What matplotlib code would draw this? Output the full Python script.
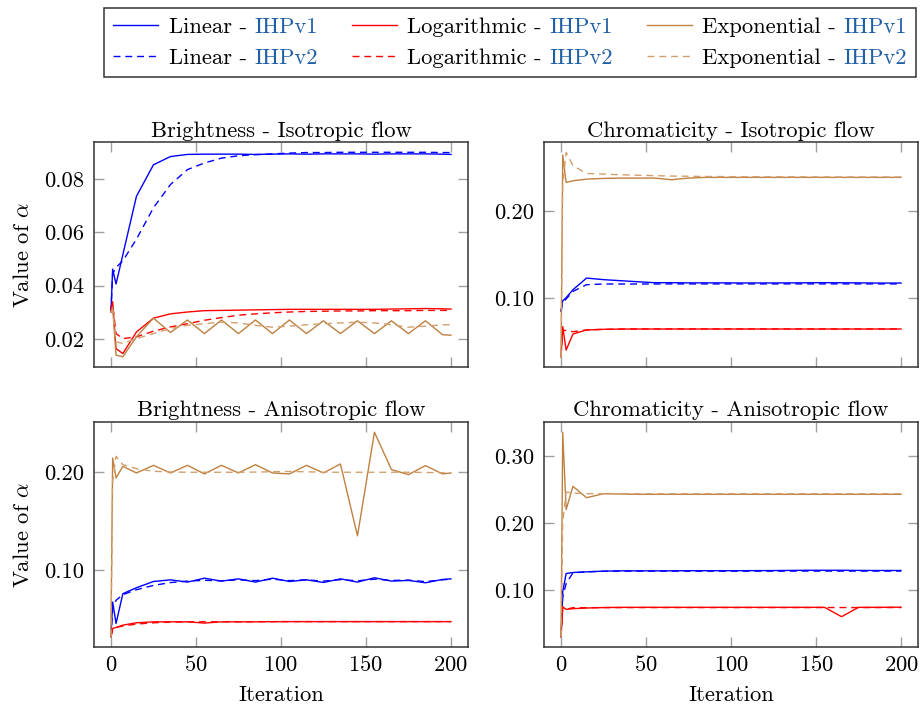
import numpy as np
import matplotlib.pyplot as plt
from matplotlib.lines import Line2D
from matplotlib.text import Annotation
from matplotlib.ticker import MultipleLocator, FormatStrFormatter

plt.rcParams.update({'font.family': 'cmr10', 'mathtext.fontset': 'cm',
                     'axes.formatter.use_mathtext': True, 'font.size': 16.3,
                     'axes.titlesize': 16.3})

# iterations at which alpha was recorded
it = [0, 1, 3, 7, 15, 25, 35, 45, 55, 65, 75, 85, 95, 105, 115, 125,
      135, 145, 155, 165, 175, 185, 195, 200]

# brightness - isotropic flow
bri_iso_lin1 = [0.0301, 0.0462, 0.0406, 0.0516, 0.0735, 0.0853, 0.0884, 0.0892, 0.0893, 0.0893, 0.0893, 0.0892,
                0.0893, 0.0894, 0.0893, 0.0894, 0.0894, 0.0894, 0.0893, 0.0894, 0.0894, 0.0894, 0.0893, 0.0892]
bri_iso_lin2 = [0.0301, 0.0444, 0.0468, 0.0493, 0.0574, 0.0692, 0.0779, 0.0835, 0.0860, 0.0878, 0.0887, 0.0891,
                0.0894, 0.0897, 0.0899, 0.0899, 0.0900, 0.0900, 0.0900, 0.0900, 0.0900, 0.0900, 0.0899, 0.0899]
bri_iso_log1 = [0.0310, 0.0340, 0.0164, 0.0145, 0.0226, 0.0278, 0.0294, 0.0301, 0.0306, 0.0307, 0.0308, 0.0309,
                0.0310, 0.0311, 0.0311, 0.0311, 0.0311, 0.0311, 0.0311, 0.0312, 0.0313, 0.0314, 0.0313, 0.0312]
bri_iso_log2 = [0.0300, 0.0330, 0.0220, 0.0201, 0.0208, 0.0229, 0.0245, 0.0257, 0.0270, 0.0280, 0.0289, 0.0294,
                0.0298, 0.0301, 0.0303, 0.0304, 0.0305, 0.0305, 0.0306, 0.0306, 0.0306, 0.0307, 0.0307, 0.0307]
bri_iso_exp1 = [0.0300, 0.0320, 0.0139, 0.0133, 0.0208, 0.0278, 0.0224, 0.0271, 0.0220, 0.0271, 0.0220, 0.0271,
                0.0220, 0.0271, 0.0220, 0.0268, 0.0220, 0.0268, 0.0220, 0.0268, 0.0220, 0.0268, 0.0216, 0.0214]
bri_iso_exp2 = [0.0300, 0.0310, 0.0189, 0.0183, 0.0201, 0.0220, 0.0239, 0.0251, 0.0257, 0.0263, 0.0260, 0.0251,
                0.0244, 0.0248, 0.0253, 0.0257, 0.0260, 0.0263, 0.0260, 0.0253, 0.0244, 0.0248, 0.0253, 0.0253]

# chromaticity - isotropic flow
chr_iso_lin1 = [0.0850, 0.0970, 0.1005, 0.1096, 0.1230, 0.1212, 0.1200, 0.1188, 0.1177, 0.1177, 0.1175, 0.1175,
                0.1175, 0.1174, 0.1174, 0.1174, 0.1175, 0.1176, 0.1177, 0.1176, 0.1175, 0.1173, 0.1173, 0.1173]
chr_iso_lin2 = [0.0850, 0.0950, 0.0990, 0.1077, 0.1154, 0.1162, 0.1162, 0.1162, 0.1162, 0.1163, 0.1163, 0.1163,
                0.1163, 0.1163, 0.1163, 0.1163, 0.1163, 0.1163, 0.1163, 0.1163, 0.1163, 0.1163, 0.1163, 0.1163]
chr_iso_log1 = [0.0327, 0.0673, 0.0404, 0.0588, 0.0635, 0.0642, 0.0645, 0.0646, 0.0646, 0.0646, 0.0646, 0.0646,
                0.0646, 0.0646, 0.0646, 0.0646, 0.0646, 0.0646, 0.0646, 0.0646, 0.0646, 0.0646, 0.0646, 0.0646]
chr_iso_log2 = [0.0327, 0.0635, 0.0627, 0.0615, 0.0635, 0.0642, 0.0645, 0.0646, 0.0646, 0.0646, 0.0646, 0.0646,
                0.0646, 0.0646, 0.0646, 0.0646, 0.0646, 0.0646, 0.0646, 0.0646, 0.0646, 0.0646, 0.0646, 0.0646]
chr_iso_exp1 = [0.0327, 0.2642, 0.2327, 0.2346, 0.2365, 0.2373, 0.2377, 0.2377, 0.2377, 0.2358, 0.2377, 0.2385,
                0.2385, 0.2385, 0.2385, 0.2385, 0.2385, 0.2385, 0.2385, 0.2385, 0.2385, 0.2385, 0.2385, 0.2385]
chr_iso_exp2 = [0.0327, 0.2300, 0.2673, 0.2520, 0.2430, 0.2423, 0.2415, 0.2410, 0.2405, 0.2400, 0.2398, 0.2395,
                0.2394, 0.2393, 0.2393, 0.2392, 0.2392, 0.2391, 0.2391, 0.2390, 0.2390, 0.2390, 0.2390, 0.2390]

# brightness - anisotropic flow
bri_ani_lin1 = [0.0315, 0.0671, 0.0451, 0.0756, 0.0817, 0.0881, 0.0898, 0.0875, 0.0915, 0.0885, 0.0908, 0.0875,
                0.0915, 0.0881, 0.0898, 0.0871, 0.0908, 0.0875, 0.0919, 0.0885, 0.0892, 0.0868, 0.0902, 0.0908]
bri_ani_lin2 = [0.0315, 0.0600, 0.0688, 0.0746, 0.0797, 0.0841, 0.0870, 0.0885, 0.0893, 0.0888, 0.0898, 0.0890,
                0.0905, 0.0890, 0.0898, 0.0885, 0.0900, 0.0888, 0.0905, 0.0892, 0.0895, 0.0880, 0.0898, 0.0905]
bri_ani_log1 = [0.0315, 0.0400, 0.0410, 0.0434, 0.0458, 0.0468, 0.0468, 0.0468, 0.0455, 0.0468, 0.0468, 0.0468,
                0.0470, 0.0470, 0.0470, 0.0470, 0.0470, 0.0470, 0.0470, 0.0470, 0.0470, 0.0470, 0.0470, 0.0470]
bri_ani_log2 = [0.0315, 0.0380, 0.0410, 0.0425, 0.0445, 0.0458, 0.0465, 0.0468, 0.0468, 0.0468, 0.0468, 0.0469,
                0.0469, 0.0470, 0.0470, 0.0470, 0.0470, 0.0470, 0.0470, 0.0470, 0.0470, 0.0470, 0.0470, 0.0470]
bri_ani_exp1 = [0.0315, 0.2146, 0.1942, 0.2061, 0.1993, 0.2071, 0.1993, 0.2071, 0.1983, 0.2071, 0.1993, 0.2078,
                0.1993, 0.1983, 0.2071, 0.1993, 0.2085, 0.1349, 0.2410, 0.2027, 0.1976, 0.2068, 0.1983, 0.1993]
bri_ani_exp2 = [0.0315, 0.1900, 0.2163, 0.2078, 0.2037, 0.2010, 0.2003, 0.2000, 0.2000, 0.2000, 0.2000, 0.2002,
                0.2005, 0.2008, 0.2005, 0.2000, 0.2000, 0.2000, 0.2000, 0.2000, 0.2000, 0.1998, 0.1995, 0.1993]

# chromaticity - anisotropic flow
chr_ani_lin1 = [0.0310, 0.0980, 0.1252, 0.1267, 0.1277, 0.1287, 0.1292, 0.1292, 0.1292, 0.1292, 0.1294, 0.1294,
                0.1294, 0.1294, 0.1295, 0.1296, 0.1298, 0.1300, 0.1300, 0.1300, 0.1298, 0.1297, 0.1297, 0.1297]
chr_ani_lin2 = [0.0310, 0.0900, 0.1104, 0.1262, 0.1277, 0.1285, 0.1287, 0.1287, 0.1287, 0.1287, 0.1287, 0.1287,
                0.1287, 0.1287, 0.1287, 0.1287, 0.1288, 0.1288, 0.1288, 0.1288, 0.1288, 0.1288, 0.1288, 0.1288]
chr_ani_log1 = [0.0310, 0.0757, 0.0718, 0.0728, 0.0738, 0.0745, 0.0748, 0.0748, 0.0748, 0.0748, 0.0748, 0.0748,
                0.0748, 0.0748, 0.0748, 0.0748, 0.0748, 0.0748, 0.0748, 0.0609, 0.0748, 0.0748, 0.0750, 0.0750]
chr_ani_log2 = [0.0310, 0.0748, 0.0718, 0.0743, 0.0743, 0.0744, 0.0744, 0.0745, 0.0745, 0.0745, 0.0745, 0.0745,
                0.0745, 0.0745, 0.0745, 0.0745, 0.0745, 0.0745, 0.0745, 0.0745, 0.0745, 0.0745, 0.0745, 0.0745]
chr_ani_exp1 = [0.0312, 0.3356, 0.2203, 0.2550, 0.2381, 0.2441, 0.2436, 0.2431, 0.2431, 0.2431, 0.2431, 0.2431,
                0.2431, 0.2431, 0.2431, 0.2431, 0.2431, 0.2431, 0.2431, 0.2431, 0.2431, 0.2431, 0.2431, 0.2431]
chr_ani_exp2 = [0.0312, 0.2000, 0.2465, 0.2450, 0.2441, 0.2441, 0.2441, 0.2441, 0.2441, 0.2441, 0.2441, 0.2441,
                0.2441, 0.2441, 0.2441, 0.2441, 0.2441, 0.2441, 0.2441, 0.2441, 0.2441, 0.2441, 0.2441, 0.2441]

titles = ["Brightness - Isotropic flow", "Chromaticity - Isotropic flow",
          "Brightness - Anisotropic flow", "Chromaticity - Anisotropic flow"]
panels = [
    [bri_iso_lin1, bri_iso_lin2, bri_iso_log1, bri_iso_log2, bri_iso_exp1, bri_iso_exp2],
    [chr_iso_lin1, chr_iso_lin2, chr_iso_log1, chr_iso_log2, chr_iso_exp1, chr_iso_exp2],
    [bri_ani_lin1, bri_ani_lin2, bri_ani_log1, bri_ani_log2, bri_ani_exp1, bri_ani_exp2],
    [chr_ani_lin1, chr_ani_lin2, chr_ani_log1, chr_ani_log2, chr_ani_exp1, chr_ani_exp2],
]
ystep = [0.02, 0.1, 0.1, 0.1]

labels = ["Linear - IHPv1", "Linear - IHPv2", "Logarithmic - IHPv1",
          "Logarithmic - IHPv2", "Exponential - IHPv1", "Exponential - IHPv2"]
colors = ["#0000ff", "#0000ff", "#ff0000", "#ff0000", "#bf8040", "#d2a06e"]
styles = ["-", "--", "-", "--", "-", "--"]
ihp_color = "#1f5fa6"

fig = plt.figure(figsize=(9.21, 7.05), dpi=100)
lefts = [0.102, 0.5907, 0.102, 0.5907]
bottoms = [0.4794, 0.4794, 0.0823, 0.0823]

for k in range(4):
    ax = fig.add_axes([lefts[k], bottoms[k], 0.4061, 0.3191])
    for s, c, ls in zip(panels[k], colors, styles):
        if ls == "--":
            ax.plot(it, s, color=c, lw=1.0, dashes=(5, 3.5))
        else:
            ax.plot(it, s, color=c, lw=1.0)
    ax.set_title(titles[k], pad=4)
    ax.set_xticks([0, 50, 100, 150, 200])
    ax.yaxis.set_major_locator(MultipleLocator(ystep[k]))
    ax.yaxis.set_major_formatter(FormatStrFormatter('%.2f'))
    ax.tick_params(direction='in', top=True, right=True, length=7, width=1,
                   color='#a0a0a0', pad=7)
    ax.tick_params(axis='x', pad=6)
    for sp in ax.spines.values():
        sp.set_color('#333333')
        sp.set_linewidth(1.1)
    if k < 2:
        ax.tick_params(labelbottom=False)
    else:
        ax.set_xlabel("Iteration", labelpad=7)
    if k % 2 == 0:
        ax.set_ylabel(r"Value of $\alpha$", labelpad=8)

handles = []
for c, ls in zip(colors, styles):
    if ls == "--":
        handles.append(Line2D([], [], color=c, lw=1.0, dashes=(5, 3.5)))
    else:
        handles.append(Line2D([], [], color=c, lw=1.0))

leg = fig.legend(handles, labels, ncol=3, loc='upper center', bbox_to_anchor=(0.5537, 0.989),
                 borderaxespad=0, fancybox=False, framealpha=1, edgecolor='#333333',
                 handlelength=2.0, columnspacing=1.5, labelspacing=0.5, borderpad=0.4,
                 handletextpad=0.45)
leg.get_frame().set_linewidth(1.1)

# colour the "IHPv*" part of each legend entry
for txt in leg.get_texts():
    head, tail = txt.get_text().rsplit(" ", 1)
    txt.set_alpha(0)
    fig.add_artist(Annotation(head, xy=(0, 0), xycoords=txt, ha='left', va='bottom',
                              color='black', zorder=10))
    fig.add_artist(Annotation(tail, xy=(1, 0), xycoords=txt, ha='right', va='bottom',
                              color=ihp_color, zorder=10))

fig.savefig("out.png", dpi=100)
